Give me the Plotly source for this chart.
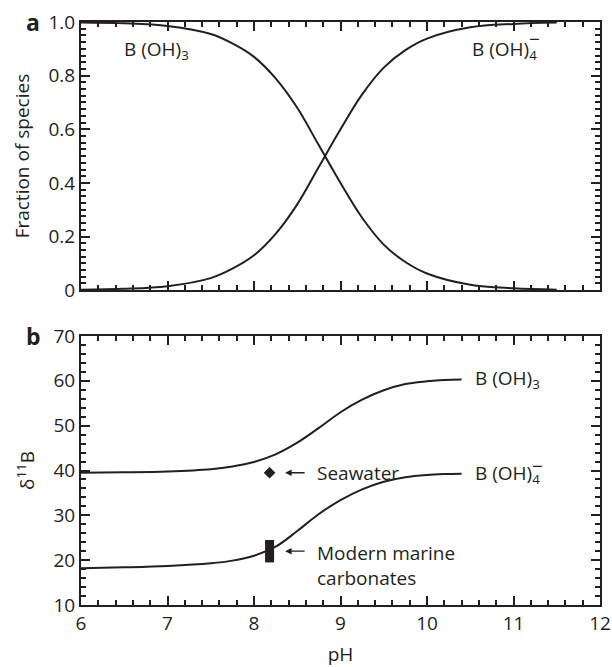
import plotly.graph_objects as go

# --- Panel a: speciation of dissolved boron vs pH ---
ph_species = [6.0, 6.5, 7.0, 7.5, 7.75, 8.0, 8.25, 8.5, 8.75, 9.0, 9.25,
              9.5, 9.75, 10.0, 10.5, 11.0, 11.5]
frac_boh3 = [0.998, 0.995, 0.985, 0.955, 0.92, 0.87, 0.79, 0.68, 0.54, 0.40,
             0.27, 0.17, 0.105, 0.062, 0.02, 0.007, 0.002]
frac_boh4 = [0.002, 0.005, 0.015, 0.045, 0.08, 0.13, 0.21, 0.32, 0.46, 0.60,
             0.73, 0.83, 0.895, 0.938, 0.98, 0.993, 0.998]

# --- Panel b: boron isotope composition of each species vs pH ---
ph_isotope = [6.0, 6.5, 7.0, 7.5, 7.75, 8.0, 8.25, 8.5, 8.75, 9.0, 9.25,
              9.5, 9.75, 10.0, 10.2, 10.4]
d11b_boh3 = [39.5, 39.6, 39.8, 40.3, 40.9, 41.9, 43.6, 46.2, 49.5, 53.0,
             55.8, 57.9, 59.3, 59.9, 60.2, 60.3]
d11b_boh4 = [18.2, 18.4, 18.7, 19.3, 19.9, 21.0, 23.0, 26.5, 30.3, 33.4,
             35.8, 37.5, 38.5, 39.0, 39.2, 39.3]

seawater_ph = [8.18]
seawater_d11b = [39.5]
carbonate_ph = [8.18, 8.18]
carbonate_d11b = [19.5, 24.5]

FONT = "Open Sans"
BLACK = "#231f20"
FS = 19

fig = go.Figure()
line = dict(color=BLACK, width=2, shape="spline")
fig.add_trace(go.Scatter(x=ph_species, y=frac_boh3, mode="lines",
                         line=line, xaxis="x", yaxis="y"))
fig.add_trace(go.Scatter(x=ph_species, y=frac_boh4, mode="lines",
                         line=line, xaxis="x", yaxis="y"))
fig.add_trace(go.Scatter(x=ph_isotope, y=d11b_boh3, mode="lines",
                         line=line, xaxis="x2", yaxis="y2"))
fig.add_trace(go.Scatter(x=ph_isotope, y=d11b_boh4, mode="lines",
                         line=line, xaxis="x2", yaxis="y2"))
fig.add_trace(go.Scatter(x=seawater_ph, y=seawater_d11b, mode="markers",
                         marker=dict(symbol="diamond", size=9, color=BLACK),
                         xaxis="x2", yaxis="y2"))
fig.add_trace(go.Scatter(x=carbonate_ph, y=carbonate_d11b, mode="lines",
                         line=dict(color=BLACK, width=9),
                         xaxis="x2", yaxis="y2"))

tickfont = dict(family=FONT, size=FS, color=BLACK)
titlefont = dict(family=FONT, size=FS, color=BLACK)


def minor_ticks(step):
    return dict(dtick=step, ticks="inside", ticklen=5, tickwidth=1.5,
                tickcolor=BLACK)


def axis(major, minor, **kw):
    return dict(tickmode="linear", tick0=0, dtick=major,
                ticks="inside", ticklen=9, tickwidth=2, tickcolor=BLACK,
                showline=True, linewidth=2, linecolor=BLACK,
                mirror="allticks", showgrid=False, zeroline=False,
                automargin=False, tickfont=tickfont,
                minor=minor_ticks(minor), **kw)


fig.update_layout(
    width=612, height=667,
    margin=dict(l=81, r=12, t=22, b=62),
    paper_bgcolor="white", plot_bgcolor="white",
    showlegend=False,
    font=dict(family=FONT, size=FS, color=BLACK),
    xaxis=axis(1, 0.2, range=[6, 12], anchor="y", showticklabels=False),
    yaxis=axis(0.2, 0.025, domain=[0.540, 1.0], range=[0, 1.0],
               tickformat=".1f", labelalias={"0.0": "0"},
               title=dict(text="Fraction of species", standoff=14,
                          font=titlefont)),
    xaxis2=axis(1, 0.2, range=[6, 12], anchor="y2",
                title=dict(text="pH", standoff=18, font=titlefont)),
    yaxis2=axis(10, 2, domain=[0.0, 0.4614], range=[10, 70],
                title=dict(text="δ<sup>11</sup>B", standoff=14,
                           font=titlefont)),
)

ann_font = dict(family=FONT, size=FS, color=BLACK)
annotations = [
    # panel letters
    dict(text="<b>a</b>", xref="paper", yref="y", x=-0.11, y=1.0,
         showarrow=False, font=dict(family=FONT, size=23, color=BLACK)),
    dict(text="<b>b</b>", xref="paper", yref="y2", x=-0.11, y=70,
         showarrow=False, font=dict(family=FONT, size=23, color=BLACK)),
    # species labels, panel a
    dict(text="B (OH)<sub>3</sub>", xref="x", yref="y", x=6.47, y=0.895,
         xanchor="left", showarrow=False, font=ann_font),
    dict(text="B (OH)<sub>4</sub>", xref="x", yref="y", x=10.5, y=0.895,
         xanchor="left", showarrow=False, font=ann_font),
    dict(text="−", xref="x", yref="y", x=11.16, y=0.935,
         xanchor="left", showarrow=False, font=ann_font),
    # species labels, panel b
    dict(text="B (OH)<sub>3</sub>", xref="x2", yref="y2", x=10.53, y=60.3,
         xanchor="left", showarrow=False, font=ann_font),
    dict(text="B (OH)<sub>4</sub>", xref="x2", yref="y2", x=10.53, y=39.3,
         xanchor="left", showarrow=False, font=ann_font),
    dict(text="−", xref="x2", yref="y2", x=11.19, y=41.0,
         xanchor="left", showarrow=False, font=ann_font),
    # seawater pointer
    dict(text="", xref="x2", yref="y2", x=8.36, y=39.5, ax=21, ay=0,
         showarrow=True, arrowhead=2, arrowsize=1, arrowwidth=1.3,
         arrowcolor=BLACK),
    dict(text="Seawater", xref="x2", yref="y2", x=8.70, y=39.5,
         xanchor="left", showarrow=False, font=ann_font),
    # carbonate pointer
    dict(text="", xref="x2", yref="y2", x=8.36, y=22.0, ax=21, ay=0,
         showarrow=True, arrowhead=2, arrowsize=1, arrowwidth=1.3,
         arrowcolor=BLACK),
    dict(text="Modern marine<br>carbonates", xref="x2", yref="y2", x=8.70,
         y=22.0, yanchor="top", yshift=13, xanchor="left", align="left",
         showarrow=False, font=ann_font),
]
fig.update_layout(annotations=annotations)

fig.write_html("out.html")
